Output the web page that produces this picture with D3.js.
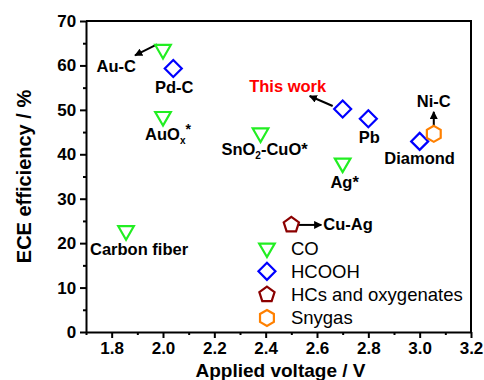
<!DOCTYPE html>
<html>
<head>
<meta charset="utf-8">
<script src="https://cdn.jsdelivr.net/npm/d3@7"></script>
<style>
  body { margin: 0; background: #fff; }
  svg { display: block; font-family: Arial, "Liberation Sans", sans-serif; }
</style>
</head>
<body>
<script>
const width = 484;
const height = 380;
const margin = { top: 21, right: 13, bottom: 48, left: 86 };

// CO (green down triangles)
const coNames = ['Au-C', 'AuOx*', 'SnO2-CuO*', 'Ag*', 'Carbon fiber'];
const coVoltage = [2.0, 2.0, 2.38, 2.7, 1.856];
const coEce = [63.6, 48.5, 44.8, 38.0, 22.8];

// HCOOH (blue diamonds)
const hcoohNames = ['Pd-C', 'This work', 'Pb', 'Diamond'];
const hcoohVoltage = [2.04, 2.7, 2.8, 3.0];
const hcoohEce = [59.3, 50.2, 48.0, 42.9];

// HCs and oxygenates (dark red pentagon)
const hcsNames = ['Cu-Ag'];
const hcsVoltage = [2.5];
const hcsEce = [24.1];

// Syngas (orange hexagon)
const synNames = ['Ni-C'];
const synVoltage = [3.055];
const synEce = [44.6];

const legendLabels = ['CO', 'HCOOH', 'HCs and oxygenates', 'Snygas'];
const xTicks = [1.8, 2.0, 2.2, 2.4, 2.6, 2.8, 3.0, 3.2];
const yTicks = [0, 10, 20, 30, 40, 50, 60, 70];

const svg = d3.select('body')
  .append('svg')
  .attr('width', width)
  .attr('height', height);

const x = d3.scaleLinear()
  .domain([1.7, 3.2])
  .range([margin.left, width - margin.right]);

const y = d3.scaleLinear()
  .domain([0, 70])
  .range([height - margin.bottom, margin.top]);

// regular polygon path, first vertex at angle `rot` (radians, 0 = up)
function polygon(n, r, rot) {
  const pts = d3.range(n).map(i => {
    const a = rot + (i * 2 * Math.PI) / n;
    return [r * Math.sin(a), -r * Math.cos(a)];
  });
  return 'M' + pts.map(p => p.join(',')).join('L') + 'Z';
}

const styles = {
  co: { color: '#22ee22', path: polygon(3, 9, Math.PI) },
  hcooh: { color: '#0000ff', path: polygon(4, 8.5, 0) },
  hcs: { color: '#8b0000', path: polygon(5, 8, 0) },
  syn: { color: '#ff8000', path: polygon(6, 8, 0) }
};

// frame
svg.append('path')
  .attr('d', `M${x(1.7)},${y(70)}H${x(3.2)}V${y(0)}`)
  .attr('fill', 'none')
  .attr('stroke', '#000')
  .attr('stroke-width', 2);

const xAxis = svg.append('g')
  .attr('transform', `translate(0,${y(0)})`)
  .call(d3.axisBottom(x).tickValues(xTicks).tickFormat(d3.format('.1f')).tickSize(6).tickSizeOuter(0));

svg.append('g')
  .attr('transform', `translate(0,${y(0)})`)
  .call(d3.axisBottom(x).tickValues(d3.range(1.7, 3.25, 0.2)).tickFormat('').tickSize(3).tickSizeOuter(0))
  .select('.domain').remove();

const yAxis = svg.append('g')
  .attr('transform', `translate(${x(1.7)},0)`)
  .call(d3.axisLeft(y).tickValues(yTicks).tickSize(6).tickSizeOuter(0));

svg.append('g')
  .attr('transform', `translate(${x(1.7)},0)`)
  .call(d3.axisLeft(y).tickValues(d3.range(5, 70, 10)).tickFormat('').tickSize(3).tickSizeOuter(0))
  .select('.domain').remove();

svg.selectAll('.domain').attr('stroke-width', 2);
svg.selectAll('.tick line').attr('stroke-width', 2);
svg.selectAll('.tick text')
  .attr('font-family', 'Arial, "Liberation Sans", sans-serif')
  .attr('font-size', 17)
  .attr('font-weight', 'bold')
  .attr('fill', '#000');
xAxis.selectAll('.tick text').attr('y', 7).attr('dy', '0.9em');
yAxis.selectAll('.tick text').attr('dx', '-0.05em');

svg.append('text')
  .attr('x', (x(1.7) + x(3.2)) / 2 + 2)
  .attr('y', 377)
  .attr('text-anchor', 'middle')
  .attr('font-size', 19)
  .attr('font-weight', 'bold')
  .text('Applied voltage / V');

svg.append('text')
  .attr('transform', `translate(31,${(y(0) + y(70)) / 2}) rotate(-90)`)
  .attr('text-anchor', 'middle')
  .attr('font-size', 20)
  .attr('font-weight', 'bold')
  .text('ECE efficiency / %');

// points
const groups = [
  { key: 'co', names: coNames, xs: coVoltage, ys: coEce },
  { key: 'hcooh', names: hcoohNames, xs: hcoohVoltage, ys: hcoohEce },
  { key: 'hcs', names: hcsNames, xs: hcsVoltage, ys: hcsEce },
  { key: 'syn', names: synNames, xs: synVoltage, ys: synEce }
];

const points = [];
groups.forEach(g => {
  g.names.forEach((n, i) => points.push({ key: g.key, name: n, v: g.xs[i], e: g.ys[i] }));
});

// label placement relative to its point, pixels
const labelOffsets = {
  'Au-C': { dx: -27, dy: 23, anchor: 'end' },
  'AuOx*': { dx: 5, dy: 23, anchor: 'middle' },
  'SnO2-CuO*': { dx: 4, dy: 22, anchor: 'middle' },
  'Ag*': { dx: 2, dy: 25, anchor: 'middle' },
  'Carbon fiber': { dx: 13, dy: 24, anchor: 'middle' },
  'Pd-C': { dx: 1, dy: 24, anchor: 'middle' },
  'This work': { dx: -55, dy: -17, anchor: 'middle', color: '#ff0000' },
  'Pb': { dx: 1, dy: 24, anchor: 'middle' },
  'Diamond': { dx: 0, dy: 23, anchor: 'middle' },
  'Cu-Ag': { dx: 32, dy: 5, anchor: 'start' },
  'Ni-C': { dx: 0, dy: -27, anchor: 'middle' }
};

const arrows = {
  'Au-C': [-6, -5, -28, 6],
  'This work': [-10, -3, -33, -13],
  'Cu-Ag': [7, 0, 30, 0],
  'Ni-C': [0, -7, 0, -22]
};

svg.append('defs')
  .append('marker')
  .attr('id', 'head')
  .attr('viewBox', '0 0 10 10')
  .attr('refX', 9)
  .attr('refY', 5)
  .attr('markerWidth', 4)
  .attr('markerHeight', 4)
  .attr('orient', 'auto')
  .append('path')
  .attr('d', 'M0,0L10,5L0,10Z')
  .attr('fill', '#000');

Object.keys(arrows).forEach(name => {
  const p = points.find(d => d.name === name);
  const a = arrows[name];
  svg.append('line')
    .attr('x1', x(p.v) + a[0])
    .attr('y1', y(p.e) + a[1])
    .attr('x2', x(p.v) + a[2])
    .attr('y2', y(p.e) + a[3])
    .attr('stroke', '#000')
    .attr('stroke-width', 2)
    .attr('marker-end', 'url(#head)');
});

svg.selectAll('.pt')
  .data(points)
  .enter()
  .append('path')
  .attr('class', 'pt')
  .attr('d', d => styles[d.key].path)
  .attr('transform', d => `translate(${x(d.v)},${y(d.e)})`)
  .attr('fill', 'none')
  .attr('stroke', d => styles[d.key].color)
  .attr('stroke-width', 2.2);

points.forEach(p => {
  const o = labelOffsets[p.name];
  const t = svg.append('text')
    .attr('x', x(p.v) + o.dx)
    .attr('y', y(p.e) + o.dy)
    .attr('text-anchor', o.anchor)
    .attr('font-size', 16.5)
    .attr('font-weight', 'bold')
    .attr('fill', o.color || '#000');
  if (p.name === 'AuOx*') {
    t.append('tspan').text('AuO');
    t.append('tspan').attr('font-size', 10).attr('dy', 4).text('x');
    t.append('tspan').attr('font-size', 14).attr('dy', -10).text('*');
  } else if (p.name === 'SnO2-CuO*') {
    t.append('tspan').text('SnO');
    t.append('tspan').attr('font-size', 10).attr('dy', 4).text('2');
    t.append('tspan').attr('dy', -4).text('-CuO*');
  } else {
    t.text(p.name);
  }
});

// legend
const legendKeys = ['co', 'hcooh', 'hcs', 'syn'];
const legend = svg.append('g')
  .attr('transform', `translate(${x(2.405)},${y(18.9)})`);

legendKeys.forEach((k, i) => {
  const row = legend.append('g').attr('transform', `translate(0,${i * 23.3})`);
  row.append('path')
    .attr('d', styles[k].path)
    .attr('fill', 'none')
    .attr('stroke', styles[k].color)
    .attr('stroke-width', 2.2);
  row.append('text')
    .attr('x', 24)
    .attr('y', 6.5)
    .attr('font-size', 18.5)
    .text(legendLabels[i]);
});
</script>
</body>
</html>
